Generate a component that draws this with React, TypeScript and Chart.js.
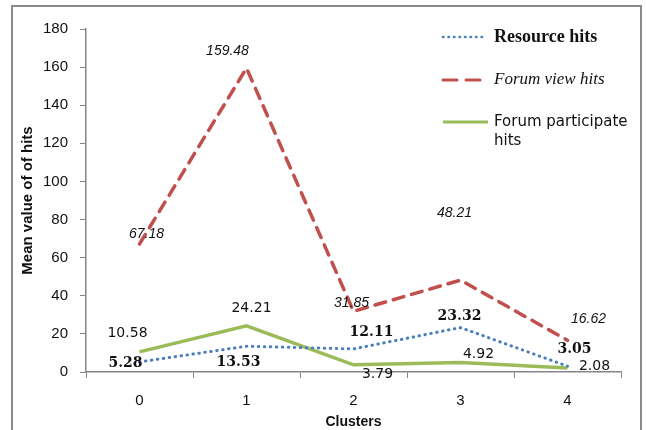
import { useEffect, useRef } from 'react';
import { Chart, registerables } from 'chart.js';

Chart.register(...registerables);

// ---- data ----
const clusters = ['0', '1', '2', '3', '4'];
const resourceHits = [5.28, 13.53, 12.11, 23.32, 3.05];
const forumViewHits = [67.18, 159.48, 31.85, 48.21, 16.62];
const forumParticipateHits = [10.58, 24.21, 3.79, 4.92, 2.08];
const seriesNames = ['Resource hits', 'Forum view hits', 'Forum participate hits'];
const yMin = 0;
const yMax = 180;
const yStep = 20;

// ---- label placement (pixel nudges from each point) & styles ----
const labelOffsets: number[][][] = [
  [[-14, 1], [-8, 16], [18, -17], [-1, -11], [7, -17]],
  [[7, -10], [-19, -17], [-2, -8], [-6, -67], [21, -21]],
  [[-12, -18], [5, -18], [24, 10], [18, -8], [27, -2]],
];
const labelFonts = [
  'bold 14px "DejaVu Serif"',
  'italic 14px "Liberation Sans"',
  '14px "DejaVu Sans"',
];
const legendFonts = [
  'bold 18px "Liberation Serif"',
  'italic 17px "Liberation Serif"',
  '15px "DejaVu Sans"',
];

const valueLabels = {
  id: 'valueLabels',
  afterDatasetsDraw(chart: any) {
    const ctx = chart.ctx;
    chart.data.datasets.forEach((ds: any, i: number) => {
      const meta = chart.getDatasetMeta(i);
      ctx.save();
      ctx.font = labelFonts[i];
      ctx.fillStyle = '#111';
      ctx.textAlign = 'center';
      ctx.textBaseline = 'middle';
      meta.data.forEach((pt: any, j: number) => {
        const [dx, dy] = labelOffsets[i][j];
        ctx.fillText(Number(ds.data[j]).toFixed(2), pt.x + dx, pt.y + dy);
      });
      ctx.restore();
    });
  },
};

const frameAndLegend = {
  id: 'frameAndLegend',
  beforeDraw(chart: any) {
    const ctx = chart.ctx;
    ctx.save();
    ctx.fillStyle = '#fff';
    ctx.fillRect(0, 0, chart.width, chart.height);
    ctx.strokeStyle = '#8a8a8a';
    ctx.lineWidth = 2;
    ctx.strokeRect(12, 6, 629, 500);
    ctx.restore();
  },
  afterDraw(chart: any) {
    const ctx = chart.ctx;
    const x0 = 443;
    const sampleW = 42;
    const textX = 494;
    const rows = [37, 80, 122];
    chart.data.datasets.forEach((ds: any, i: number) => {
      const y = rows[i];
      ctx.save();
      ctx.strokeStyle = ds.borderColor;
      ctx.lineWidth = i === 0 ? 2.5 : 3;
      ctx.lineCap = ds.borderCapStyle || 'butt';
      ctx.setLineDash(i === 0 ? [0.5, 5] : i === 1 ? [14, 9] : []);
      ctx.beginPath();
      ctx.moveTo(x0, y);
      ctx.lineTo(x0 + (i === 2 ? 45 : sampleW), y);
      ctx.stroke();
      ctx.setLineDash([]);
      ctx.font = legendFonts[i];
      ctx.fillStyle = '#111';
      ctx.textAlign = 'left';
      ctx.textBaseline = 'middle';
      // simple word wrap
      const words = String(ds.label).split(' ');
      const lines: string[] = [];
      let cur = '';
      words.forEach((w) => {
        const test = cur ? cur + ' ' + w : w;
        if (ctx.measureText(test).width > 140 && cur) {
          lines.push(cur);
          cur = w;
        } else cur = test;
      });
      if (cur) lines.push(cur);
      lines.forEach((ln, k) => ctx.fillText(ln, textX, y + k * 19));
      ctx.restore();
    });
  },
};

export default function App() {
  const ref = useRef<HTMLCanvasElement>(null);
  useEffect(() => {
    document.body.style.margin = '0';
    const axisColor = '#868686';
    const chart = new Chart(ref.current as HTMLCanvasElement, {
      type: 'line',
      data: {
        labels: clusters,
        datasets: [
          {
            label: seriesNames[0],
            data: resourceHits,
            borderColor: '#4a7ebb',
            borderWidth: 3,
            borderDash: [0.5, 5.5],
            borderCapStyle: 'round',
            pointRadius: 0,
            tension: 0,
          },
          {
            label: seriesNames[1],
            data: forumViewHits,
            borderColor: '#c0504d',
            borderWidth: 3.5,
            borderDash: [11, 8],
            borderCapStyle: 'round',
            pointRadius: 0,
            tension: 0,
          },
          {
            label: seriesNames[2],
            data: forumParticipateHits,
            borderColor: '#9bbb59',
            borderWidth: 3.5,
            pointRadius: 0,
            tension: 0,
          },
        ],
      },
      options: {
        responsive: false,
        animation: false,
        layout: { padding: { left: 0, top: 29, right: 25, bottom: 0 } },
        plugins: { legend: { display: false }, tooltip: { enabled: false } },
        scales: {
          x: {
            type: 'category',
            offset: true,
            afterFit: (s: any) => { s.height = 58; },
            grid: { drawOnChartArea: false, drawTicks: true, tickLength: 6, color: axisColor, offset: true },
            border: { color: axisColor, width: 1.5 },
            ticks: { color: '#111', font: { family: '"Liberation Sans"', size: 15 }, padding: 14 },
            title: {
              display: true,
              text: 'Clusters',
              color: '#111',
              font: { family: '"Liberation Sans"', size: 14, weight: 'bold' },
              padding: { top: 0, bottom: -1 },
            },
          },
          y: {
            min: yMin,
            max: yMax,
            afterFit: (s: any) => { s.width = 86; },
            grid: { drawOnChartArea: false, drawTicks: true, tickLength: 6, color: axisColor },
            border: { color: axisColor, width: 1.5 },
            ticks: { stepSize: yStep, color: '#111', font: { family: '"Liberation Sans"', size: 15 }, padding: 12 },
            title: {
              display: true,
              text: 'Mean value of of hits',
              color: '#111',
              font: { family: '"Liberation Sans"', size: 15, weight: 'bold' },
              padding: { top: 19, bottom: 0 },
            },
          },
        },
      },
      plugins: [frameAndLegend, valueLabels],
    } as any);
    return () => chart.destroy();
  }, []);
  return <canvas ref={ref} width={646} height={430} />;
}
